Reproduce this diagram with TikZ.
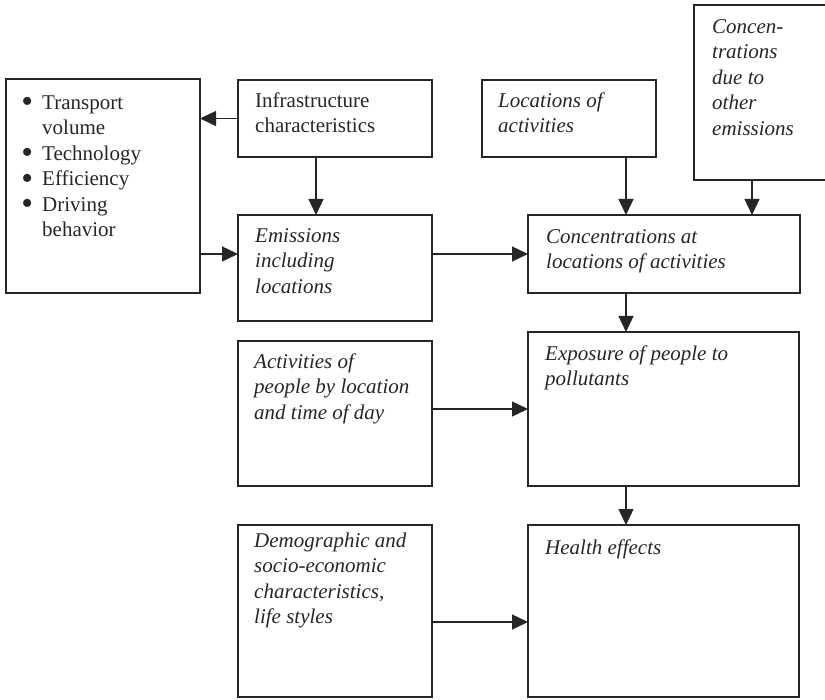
\documentclass[tikz,border=0pt]{standalone}
\usepackage{fontspec}
\usepackage{graphicx}
\setmainfont{Liberation Serif}
\usetikzlibrary{arrows.meta}
\newcommand\mybul{\llap{\smash{\raisebox{-3.5pt}{\scalebox{1.6}{\textbullet}}}\hspace{9pt}}}
\begin{document}
\begin{tikzpicture}[x=1pt,y=-1pt,
  box/.style={draw=black!85, line width=1.4pt, anchor=north west, inner sep=0pt, outer sep=0pt},
  txt/.style={anchor=north west, inner sep=0pt, align=left, font=\fontsize{21}{25.5}\selectfont, text=black!85},
  arr/.style={line width=1.3pt, draw=black!85, -{Triangle[length=16pt,width=15pt]}}]
\useasboundingbox (0,0) rectangle (825,700);
% boxes
\node[box, minimum width=194, minimum height=214] (bul) at (6,79) {};
\node[box, minimum width=194, minimum height=77] (infra) at (238,80) {};
\node[box, minimum width=174, minimum height=77] (locs) at (482,80) {};
\node[box, minimum width=160, minimum height=175] (oth) at (694,5) {};
\node[box, minimum width=194, minimum height=106] (emis) at (238,215) {};
\node[box, minimum width=272, minimum height=78] (conc) at (528,215) {};
\node[box, minimum width=194, minimum height=145] (act) at (238,341) {};
\node[box, minimum width=271, minimum height=154] (expo) at (528,332) {};
\node[box, minimum width=194, minimum height=172] (demo) at (238,525) {};
\node[box, minimum width=271, minimum height=172] (hlth) at (528,525) {};
% texts
\node[txt] (tbul) at (42,91) {\strut\mybul Transport\\volume\\\mybul Technology\\\mybul Efficiency\\\mybul Driving\\behavior};
\node[txt] (tinfra) at (255,89) {\strut Infrastructure\\characteristics};
\node[txt] (tlocs) at (498,89) {\strut\itshape Locations of\\\itshape activities};
\node[txt] (toth) at (712,15) {\strut\itshape Concen-\\\itshape trations\\\itshape due to\\\itshape other\\\itshape emissions};
\node[txt] (temis) at (255,224) {\strut\itshape Emissions\\\itshape including\\\itshape locations};
\node[txt] (tconc) at (546,225) {\strut\itshape Concentrations at\\\itshape locations of activities};
\node[txt] (tact) at (254,350) {\strut\itshape Activities of\\\itshape people by location\\\itshape and time of day};
\node[txt] (texpo) at (545,342) {\strut\itshape Exposure of people to\\\itshape pollutants};
\node[txt] (tdemo) at (254,529) {\strut\itshape Demographic and\\\itshape socio-economic\\\itshape characteristics,\\\itshape life styles};
\node[txt] (thlth) at (545,536) {\strut\itshape Health effects};
% connector columns/rows
\coordinate (cI) at (316,0);
\coordinate (cA) at (626,0);
\coordinate (cO) at (752,0);
\coordinate (rE) at (0,254);
\coordinate (rD) at (0,622);
% connectors
\draw[arr] (infra.west) -- (bul.east |- infra.west);
\draw[arr] (infra.south -| cI) -- (emis.north -| cI);
\draw[arr] (bul.east |- rE) -- (emis.west |- rE);
\draw[arr] (emis.east |- rE) -- (conc.west |- rE);
\draw[arr] (locs.south -| cA) -- (conc.north -| cA);
\draw[arr] (oth.south -| cO) -- (conc.north -| cO);
\draw[arr] (conc.south -| cA) -- (expo.north -| cA);
\draw[arr] (act.east |- expo.west) -- (expo.west);
\draw[arr] (expo.south -| cA) -- (hlth.north -| cA);
\draw[arr] (demo.east |- rD) -- (hlth.west |- rD);
\end{tikzpicture}
\end{document}
